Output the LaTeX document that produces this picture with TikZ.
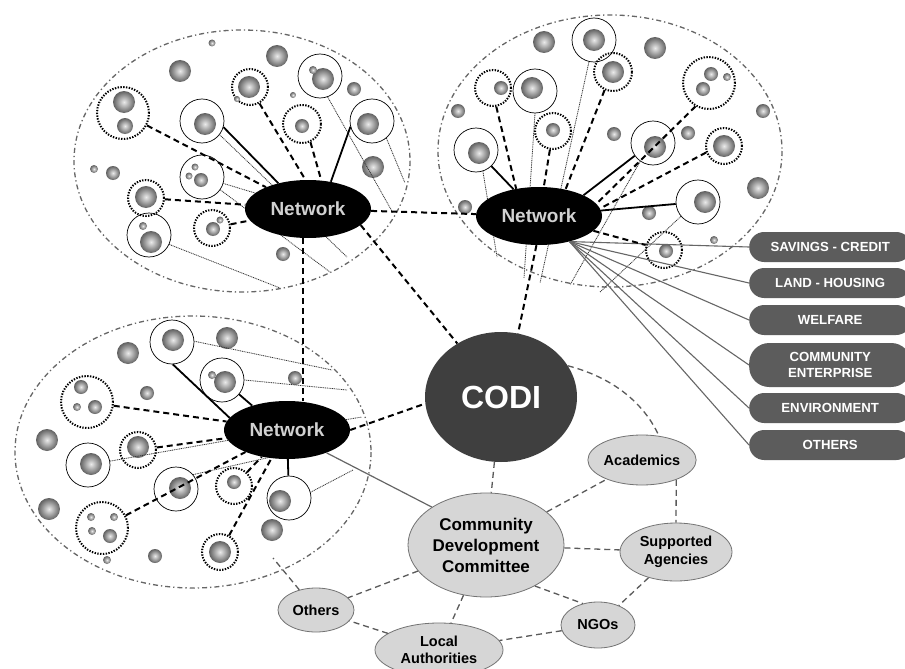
\documentclass[tikz,border=0pt]{standalone}
\usepackage{fontspec}
\setmainfont{Liberation Sans}
\usetikzlibrary{shapes.geometric,calc}
\definecolor{codigray}{HTML}{3F3F3F}
\definecolor{lightfill}{HTML}{D6D6D6}
\definecolor{pillgray}{HTML}{5C5C5C}
\definecolor{ringgray}{HTML}{5A5A5A}
\newcommand{\mybl}[3]{\shade[inner color=black!8, outer color=black!62] (#1,#2) circle[radius=#3pt];}
\begin{document}
\begin{tikzpicture}[x=1pt,y=-1pt,
  clusterline/.style={draw=black!60, line width=1.3pt, dash pattern=on 5pt off 3pt on 1.3pt off 3pt},
  solidg/.style={circle, draw=black, line width=0.7pt, inner sep=0pt},
  dotg/.style={circle, draw=black, line width=2pt, dash pattern=on 1.4pt off 1.4pt, inner sep=0pt},
  hdash/.style={line width=2pt, dash pattern=on 6pt off 4pt},
  hsolid/.style={line width=1.8pt},
  fineline/.style={line width=0.8pt, draw=black!80, dash pattern=on 1pt off 0.8pt},
  netnode/.style={ellipse, fill=black, text=black!18, inner sep=0pt, minimum width=126pt, minimum height=58pt, font=\bfseries\fontsize{19}{19}\selectfont},
  labnode/.style={ellipse, fill=lightfill, draw=black!55, line width=0.8pt, inner sep=0pt, align=center, font=\bfseries\fontsize{14.5}{17.5}\selectfont},
  pill/.style={rectangle, rounded corners=15pt, fill=pillgray, text=white, inner sep=0pt, minimum width=162pt, minimum height=30pt, anchor=west, align=center, font=\bfseries\fontsize{13.2}{16}\selectfont},
  fan/.style={draw=black!60, line width=1.1pt},
  ringd/.style={draw=ringgray, line width=1.3pt, dash pattern=on 6pt off 4pt}
]
\clip (0,0) rectangle (905,669);
\fill[white] (0,0) rectangle (905,669);

% cluster outlines
\draw[clusterline] (242,161) ellipse [x radius=168, y radius=131];
\draw[clusterline] (610,151) ellipse [x radius=172, y radius=136];
\draw[clusterline] (193,452) ellipse [x radius=178, y radius=136];

% ---------------- cluster 1 ----------------
\node[dotg, minimum size=52pt] (a1) at (123,113) {};
\mybl{124}{102}{11} \mybl{125}{126}{8}
\node[solidg, minimum size=44pt] (a2) at (202,121) {};
\mybl{205}{124}{11}
\node[dotg, minimum size=36pt] (a3) at (250,87) {};
\mybl{249}{87}{11} \mybl{237}{99}{3}
\node[solidg, minimum size=44pt] (a4) at (320,76) {};
\mybl{323}{79}{11} \mybl{313}{70}{4}
\node[dotg, minimum size=38pt] (a5) at (302,124) {};
\mybl{302}{126}{7}
\node[solidg, minimum size=44pt] (a6) at (372,121) {};
\mybl{368}{124}{11}
\node[solidg, minimum size=44pt] (a7) at (202,177) {};
\mybl{201}{180}{7} \mybl{195}{167}{3.5} \mybl{189}{176}{3.5}
\node[dotg, minimum size=36pt] (a8) at (146,198) {};
\mybl{146}{197}{11}
\node[dotg, minimum size=36pt] (a9) at (212,228) {};
\mybl{213}{229}{7} \mybl{220}{220}{3.5}
\node[solidg, minimum size=44pt] (a10) at (149,235) {};
\mybl{151}{242}{11} \mybl{143}{226}{4}
\mybl{212}{43}{3.5} \mybl{180}{71}{11} \mybl{277}{56}{11} \mybl{293}{95}{3}
\mybl{354}{89}{7} \mybl{373}{167}{11} \mybl{94}{169}{4} \mybl{113}{173}{7}
\mybl{283}{254}{7}

% ---------------- cluster 2 ----------------
\node[solidg, minimum size=44pt] (b1) at (476,150) {};
\mybl{479}{153}{11}
\node[dotg, minimum size=36pt] (b2) at (493,88) {};
\mybl{501}{88}{7}
\node[solidg, minimum size=44pt] (b3) at (535,91) {};
\mybl{532}{88}{11}
\node[dotg, minimum size=36pt] (b4) at (553,131) {};
\mybl{553}{130}{7}
\node[solidg, minimum size=44pt] (b5) at (594,40) {};
\mybl{594}{40}{11}
\node[dotg, minimum size=38pt] (b6) at (613,72) {};
\mybl{613}{72}{11}
\node[dotg, minimum size=52pt] (b7) at (709,83) {};
\mybl{711}{74}{7} \mybl{703}{89}{7} \mybl{727}{77}{4}
\node[solidg, minimum size=44pt] (b8) at (653,143) {};
\mybl{655}{147}{11}
\node[dotg, minimum size=36pt] (b9) at (724,146) {};
\mybl{724}{146}{11}
\node[solidg, minimum size=44pt] (b10) at (698,202) {};
\mybl{705}{202}{11}
\node[dotg, minimum size=36pt] (b11) at (664,250) {};
\mybl{666}{251}{7}
\mybl{544}{42}{11} \mybl{655}{48}{11} \mybl{458}{111}{7} \mybl{614}{134}{7}
\mybl{688}{133}{7} \mybl{763}{111}{7} \mybl{758}{188}{11} \mybl{465}{207}{7}
\mybl{649}{213}{7} \mybl{714}{240}{4}

% ---------------- cluster 3 ----------------
\node[solidg, minimum size=44pt] (c1) at (172,342) {};
\mybl{173}{340}{11}
\node[solidg, minimum size=44pt] (c2) at (222,380) {};
\mybl{225}{382}{11} \mybl{212}{375}{4}
\node[dotg, minimum size=52pt] (c3) at (87,402) {};
\mybl{81}{387}{7} \mybl{95}{407}{7} \mybl{77}{407}{4}
\node[dotg, minimum size=36pt] (c4) at (138,450) {};
\mybl{138}{447}{11}
\node[solidg, minimum size=44pt] (c5) at (88,465) {};
\mybl{91}{464}{11}
\node[solidg, minimum size=44pt] (c6) at (176,489) {};
\mybl{180}{488}{11}
\node[dotg, minimum size=36pt] (c7) at (234,486) {};
\mybl{234}{482}{7}
\node[solidg, minimum size=44pt] (c8) at (289,498) {};
\mybl{280}{501}{11}
\node[dotg, minimum size=52pt] (c9) at (102,528) {};
\mybl{91}{517}{4} \mybl{114}{517}{4} \mybl{92}{531}{4} \mybl{110}{536}{7}
\node[dotg, minimum size=36pt] (c10) at (220,552) {};
\mybl{220}{552}{11}
\mybl{227}{338}{11} \mybl{128}{353}{11} \mybl{295}{378}{7} \mybl{147}{393}{7}
\mybl{47}{440}{11} \mybl{49}{509}{11} \mybl{107}{560}{4} \mybl{155}{556}{7}
\mybl{272}{530}{11}

% free ends of the fine lines
\coordinate (e1) at (393,213); \coordinate (e2) at (405,183);
\coordinate (e3) at (280,288); \coordinate (e4) at (330,272);
\coordinate (e5) at (347,257); \coordinate (e6) at (497,257);
\coordinate (e7) at (524,278); \coordinate (e8) at (570,285);
\coordinate (e9) at (600,292); \coordinate (e10) at (540,283);
\coordinate (e11) at (332,370); \coordinate (e12) at (347,390);
\coordinate (e13) at (353,470); \coordinate (e14) at (362,417);
\coordinate (othend) at (273,558);

% fine lines (partly behind the network ellipses)
\draw[fineline] (a2.-38) -- (e5);
\draw[fineline] (a7.-35) -- (e4);
\draw[fineline] (a4.-70) -- (e1);
\draw[fineline] (a6.-50) -- (e2);
\draw[fineline] (a10.-25) -- (e3);
\draw[fineline] (b1.-72) -- (e6);
\draw[fineline] (b3.-90) -- (e7);
\draw[fineline] (b5.-103) -- (e10);
\draw[fineline] (b8.-125) -- (e8);
\draw[fineline] (b10.-140) -- (e9);
\draw[fineline] (c1.2) -- (e11);
\draw[fineline] (c2.0) -- (e12);
\draw[fineline] (c8.15) -- (e13);

% main nodes
\node[netnode] (net1) at (308,209) {Network};
\node[netnode] (net2) at (539,216) {Network};
\node[netnode] (net3) at (287,430) {Network};
\node[ellipse, fill=codigray, text=white, inner sep=0pt, minimum width=152pt, minimum height=130pt, font=\bfseries\fontsize{32}{32}\selectfont] (codi) at (501,397) {CODI};
\node[labnode, minimum width=156pt, minimum height=104pt, font=\bfseries\fontsize{17}{21}\selectfont] (cdc) at (486,545) {Community\\Development\\Committee};
\node[labnode, minimum width=104pt, minimum height=50pt] (acad) at (642,460) {Academics};
\node[labnode, minimum width=112pt, minimum height=58pt] (supp) at (676,552) {Supported\\Agencies};
\node[labnode, minimum width=74pt, minimum height=46pt] (ngos) at (598,625) {NGOs};
\node[labnode, minimum width=128pt, minimum height=54pt] (local) at (439,650) {Local\\Authorities};
\node[labnode, minimum width=76pt, minimum height=44pt] (oth) at (316,610) {Others};

% category pills
\node[pill] (p1) at (749,247) {SAVINGS - CREDIT};
\node[pill] (p2) at (749,283) {LAND - HOUSING};
\node[pill] (p3) at (749,320) {WELFARE};
\node[pill, minimum height=44pt, rounded corners=20pt] (p4) at (749,365) {COMMUNITY\\ENTERPRISE};
\node[pill] (p5) at (749,408) {ENVIRONMENT};
\node[pill] (p6) at (749,445) {OTHERS};
\foreach \p in {p1,p2,p3,p4,p5,p6} \draw[fan] (net2.-40) -- (\p.west);

% cluster 1 connectors
\draw[hdash] (a1) -- (net1);
\draw[hsolid] (a2.-16) -- (net1.139);
\draw[hdash] (a3.-60) -- (net1.95);
\draw[hdash] (a5.-65) -- (net1.65);
\draw[hsolid] (a6.195) -- (net1.50);
\draw[fineline] (a7) -- (net1);
\draw[hdash] (a8) -- (net1);
\draw[hdash] (a9) -- (net1);

% cluster 2 connectors
\draw[hsolid] (b1) -- (net2);
\draw[hdash] (b2.-80) -- (net2.130);
\draw[hdash] (b4) -- (net2);
\draw[hdash] (b6.-115) -- (net2.45);
\draw[hdash] (b7.-120) -- (net2.12);
\draw[hsolid] (b8.-145) -- (net2.25);
\draw[hdash] (b9.200) -- (net2.7);
\draw[hsolid] (b10) -- (net2);
\draw[hdash] (net2) -- (b11);

% cluster 3 connectors
\draw[hsolid] (c1.-88) -- (net3.168);
\draw[hsolid] (c2.-40) -- (net3.145);
\draw[hdash] (c3) -- (net3);
\draw[hdash] (c4) -- (net3);
\draw[fineline] (c5) -- (net3);
\draw[fineline] (c6.40) -- (net3.235);
\draw[hdash] (c7) -- (net3);
\draw[hsolid] (c8) -- (net3);
\draw[hdash] (c9) -- (net3);
\draw[hdash] (c10) -- (net3);
\draw[fineline] (net3.10) -- (e14);

% links between networks and CODI
\draw[hdash] (net1) -- (net2);
\coordinate (v1) at ($(net1.south)+(-5,0)$);
\draw[hdash] (v1) -- (v1 |- net3.north);
\draw[hdash] (net1.-17) -- (codi);
\draw[hdash] (net2.265) -- (codi.75);
\draw[hdash] (net3.east) -- (codi.185);
\draw[draw=black!60, line width=1.2pt] (net3.-30) -- (cdc.145);

% ring of partners
\draw[ringd] (codi.25) .. controls (615,378) and (645,405) .. (acad.55);
\draw[ringd] (codi) -- (cdc);
\draw[ringd] (acad.-30) -- (supp.north);
\draw[ringd] (supp) -- (ngos);
\draw[ringd] (ngos) -- (local);
\draw[ringd] (local) -- (oth);
\draw[ringd] (oth) -- (othend);
\draw[ringd] (cdc) -- (acad);
\draw[ringd] (cdc) -- (supp);
\draw[ringd] (cdc.-40) -- (ngos.125);
\draw[ringd] (cdc) -- (local);
\draw[ringd] (cdc) -- (oth);
\end{tikzpicture}
\end{document}
